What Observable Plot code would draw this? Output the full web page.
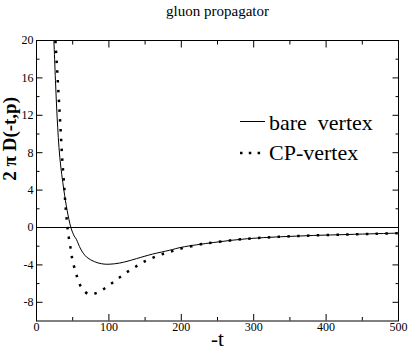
<!DOCTYPE html>
<html><head><meta charset="utf-8">
<script src="https://cdn.jsdelivr.net/npm/d3@7"></script>
<script src="https://cdn.jsdelivr.net/npm/@observablehq/plot@0.6"></script>
<style>
body{margin:0;background:#fff;}
#wrap{position:relative;width:409px;height:354px;}
#wrap svg text{font-family:'Liberation Serif','Times New Roman',serif;}
#legend{position:absolute;left:0;top:0;pointer-events:none;}
</style></head><body>
<div id="wrap"></div>
<script>
const titleText = "gluon propagator";
const xLabel = "-t";
const yLabel = "2 π D(-t,p)";
const seriesNames = ["bare  vertex", "CP-vertex"];

const xMajor = [0, 100, 200, 300, 400, 500];
const xMinor = [50, 150, 250, 350, 450];
const yMajor = [-8, -4, 0, 4, 8, 12, 16, 20];
const yMinor = [-6, -2, 2, 6, 10, 14, 18];

const bareT = [23, 24, 26.2, 28.5, 32.2, 37.8, 42.4, 47.5, 52, 55, 61, 69, 80, 90, 100, 115, 125, 138, 160, 184, 200, 245, 291, 337, 383, 429, 470, 500];
const bareV = [21, 19.9, 15.7, 11.8, 7.5, 4.0, 1.8, 0, -0.9, -1.25, -2.3, -3.15, -3.65, -3.88, -3.93, -3.8, -3.62, -3.33, -2.85, -2.43, -2.12, -1.6, -1.2, -0.99, -0.85, -0.75, -0.66, -0.6];

const cpT = [25.5, 26.2, 28.5, 30.8, 33.1, 35.4, 38.2, 40.0, 42, 44, 46, 48, 50.2, 54, 57.6, 63.1, 72.8, 84.3, 95.3, 105, 115, 125.3, 135.8, 146.4, 157.5, 169, 179.6, 191, 202.6, 226.5, 245, 291, 337, 383, 429, 470, 500];
const cpV = [21, 19.9, 16.9, 13.8, 10.7, 7.5, 4.5, 2.4, 0.6, -0.8, -1.66, -2.7, -3.7, -4.72, -5.65, -6.55, -7.15, -6.96, -6.46, -5.9, -5.33, -4.76, -4.25, -3.75, -3.33, -2.97, -2.7, -2.45, -2.2, -1.8, -1.6, -1.2, -0.99, -0.85, -0.75, -0.66, -0.6];

const bare = bareT.map((t, i) => ({t, v: bareV[i]}));
const cp = cpT.map((t, i) => ({t, v: cpV[i]}));
const fmt = d => String(d);
const serif = "Liberation Serif";

const chart = Plot.plot({
  width: 409, height: 354,
  marginLeft: 36, marginRight: 11, marginTop: 40, marginBottom: 33.5,
  x: {domain: [0, 500], label: null},
  y: {domain: [-10, 20], label: null},
  style: "font-family: 'Liberation Serif', serif; font-size: 12px; color: black; background: white; overflow: visible;",
  marks: [
    Plot.ruleY([0], {stroke: "black", strokeWidth: 1}),
    Plot.line(bare, {x: "t", y: "v", stroke: "black", strokeWidth: 1, curve: "catmull-rom", clip: true}),
    Plot.line(cp, {x: "t", y: "v", stroke: "black", strokeWidth: 2.5, strokeDasharray: "2.5,7.3", strokeLinecap: "butt", curve: "catmull-rom", clip: true}),
    Plot.frame({stroke: "black"}),
    Plot.axisX(xMajor, {anchor: "bottom", tickSize: -6.5, tickFormat: () => "", label: null}),
    Plot.axisX(xMajor, {anchor: "top", tickSize: -6.5, tickFormat: () => "", label: null}),
    Plot.axisX(xMinor, {anchor: "bottom", tickSize: -3.5, tickFormat: () => "", label: null}),
    Plot.axisX(xMinor, {anchor: "top", tickSize: -3.5, tickFormat: () => "", label: null}),
    Plot.axisX(xMajor, {anchor: "bottom", tickSize: 0, tickPadding: 1, tickFormat: fmt, label: null, fontFamily: serif, fontSize: 12}),
    Plot.axisY(yMajor, {anchor: "left", tickSize: -6.5, tickFormat: () => "", label: null}),
    Plot.axisY(yMajor, {anchor: "right", tickSize: -6.5, tickFormat: () => "", label: null}),
    Plot.axisY(yMinor, {anchor: "left", tickSize: -3.5, tickFormat: () => "", label: null}),
    Plot.axisY(yMinor, {anchor: "right", tickSize: -3.5, tickFormat: () => "", label: null}),
    Plot.axisY(yMajor, {anchor: "left", tickSize: 0, tickPadding: 3, tickFormat: fmt, label: null, fontFamily: serif, fontSize: 12}),
    Plot.text([titleText], {frameAnchor: "top", dy: -25, lineAnchor: "bottom", fontSize: 15, fontFamily: serif}),
    Plot.text([xLabel], {frameAnchor: "bottom", dy: 24.5, lineAnchor: "bottom", fontSize: 21, fontFamily: serif}),
    Plot.text([yLabel], {frameAnchor: "left", dx: -27, rotate: -90, fontSize: 19, fontWeight: "bold", fontFamily: serif})
  ]
});
const wrap = document.getElementById("wrap");
wrap.appendChild(chart);

// legend overlay
const leg = d3.select(wrap).append("svg").attr("id", "legend").attr("width", 409).attr("height", 354);
const legItems = [
  {name: seriesNames[0], y: 121.5, base: 129.5, dash: null, w: 1},
  {name: seriesNames[1], y: 153, base: 159.5, dash: "2.5,6.3", w: 2.5}
];
legItems.forEach(it => {
  leg.append("line").attr("x1", 240).attr("x2", 265).attr("y1", it.y).attr("y2", it.y)
    .attr("stroke", "black").attr("stroke-width", it.w).attr("stroke-dasharray", it.dash);
  leg.append("text").attr("x", 269).attr("y", it.base)
    .attr("font-size", 22).attr("fill", "black").style("white-space", "pre").text(it.name);
});
</script>
</body></html>
